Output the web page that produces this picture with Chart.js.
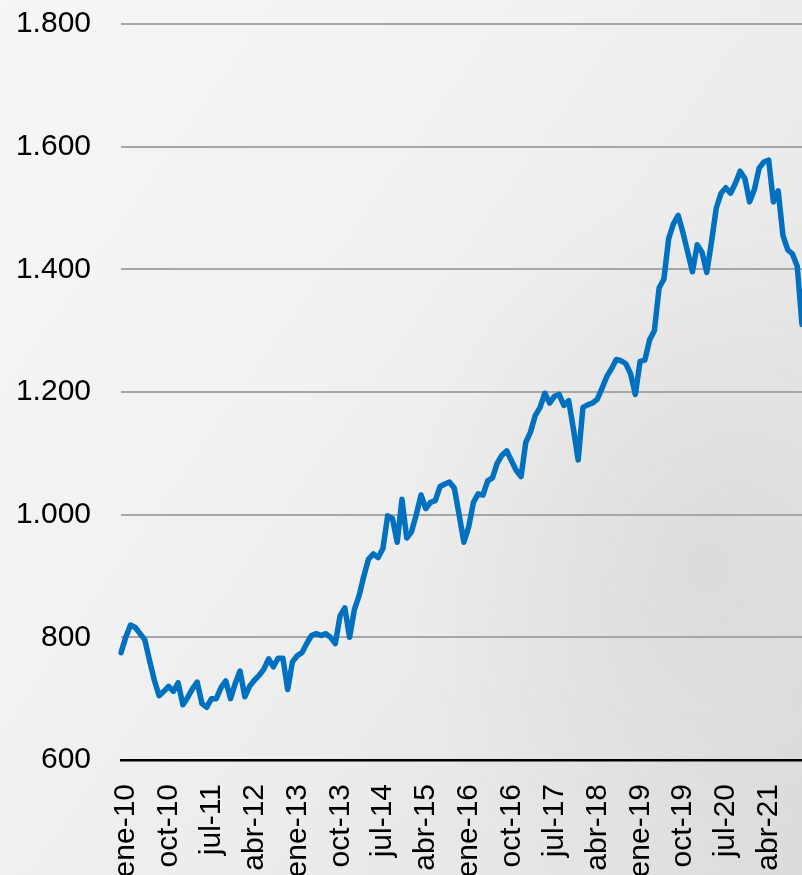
<!DOCTYPE html>
<html>
<head>
<meta charset="utf-8">
<script src="https://cdn.jsdelivr.net/npm/chart.js@4/dist/chart.umd.min.js"></script>
<style>
  html, body { margin: 0; padding: 0; overflow: hidden; }
  body {
    width: 802px; height: 875px;
    background:
      radial-gradient(ellipse 420px 520px at 700px 560px, rgba(200,200,200,0.35), rgba(200,200,200,0) 70%),
      linear-gradient(125deg, #f6f6f6 0%, #f2f2f2 35%, #ececec 60%, #e4e4e4 85%, #dcdcdc 100%);
  }
  #wrap { position: absolute; left: 0; top: 0; width: 802px; height: 900px; }
</style>
</head>
<body>
<div id="wrap"><canvas id="c" width="802" height="900"></canvas></div>
<script>
// Spanish month abbreviations and years for the category axis
const monthNames = ['ene','feb','mar','abr','may','jun','jul','ago','sep','oct','nov','dic'];
const years = ['10','11','12','13','14','15','16','17','18','19','20','21'];

// Monthly values, one array per year (ene..dic)
const v2010 = [775, 800, 820, 816, 806, 796, 762, 730, 705, 712, 720, 712];
const v2011 = [726, 690, 702, 716, 727, 692, 686, 700, 700, 718, 729, 700];
const v2012 = [725, 745, 703, 720, 730, 738, 748, 765, 752, 766, 766, 715];
const v2013 = [760, 770, 775, 790, 803, 806, 803, 806, 800, 790, 835, 848];
const v2014 = [800, 845, 868, 900, 928, 936, 930, 945, 998, 994, 955, 1025];
const v2015 = [962, 972, 1000, 1032, 1010, 1020, 1023, 1046, 1050, 1053, 1043, 1000];
const v2016 = [955, 980, 1020, 1034, 1032, 1055, 1060, 1084, 1097, 1104, 1088, 1072];
const v2017 = [1062, 1118, 1135, 1162, 1175, 1198, 1182, 1193, 1196, 1178, 1186, 1140];
const v2018 = [1089, 1175, 1179, 1182, 1188, 1206, 1225, 1238, 1253, 1251, 1246, 1230];
const v2019 = [1196, 1250, 1252, 1285, 1300, 1370, 1384, 1450, 1474, 1488, 1460, 1428];
const v2020 = [1396, 1440, 1428, 1395, 1445, 1500, 1524, 1533, 1524, 1540, 1560, 1548];
const v2021 = [1510, 1530, 1565, 1575, 1578, 1510, 1528, 1455, 1432, 1425, 1405, 1310];

// Y-axis tick values
const yTicks = [600, 800, 1000, 1200, 1400, 1600, 1800];
// Show a category label every N months
const labelStep = 9;

const categories = [];
years.forEach(y => monthNames.forEach(m => categories.push(m + '-' + y)));
const values = [].concat(v2010, v2011, v2012, v2013, v2014, v2015, v2016, v2017, v2018, v2019, v2020, v2021);

const fmt = v => String(v).replace(/\B(?=(\d{3})+(?!\d))/g, '.');

new Chart(document.getElementById('c'), {
  type: 'line',
  data: {
    labels: categories,
    datasets: [{
      data: values,
      borderColor: '#0070C0',
      borderWidth: 5.5,
      pointRadius: 0,
      tension: 0,
      fill: false,
      borderJoinStyle: 'round',
      borderCapStyle: 'round'
    }]
  },
  options: {
    responsive: false,
    animation: false,
    layout: { padding: { top: 24, right: 0, left: 0, bottom: 0 } },
    plugins: { legend: { display: false }, tooltip: { enabled: false } },
    scales: {
      x: {
        type: 'category',
        offset: false,
        grid: { display: false, drawTicks: false },
        border: { display: true, color: '#000000', width: 2.5 },
        ticks: {
          autoSkip: false,
          minRotation: 90,
          maxRotation: 90,
          padding: 24,
          labelOffset: 5,
          color: '#000000',
          font: { family: 'Liberation Sans, Arial, sans-serif', size: 30 },
          callback: function(val, idx) { return idx % labelStep === 0 ? categories[idx] : ''; }
        },
        afterFit: function(s) { s.height = 140; s.paddingLeft = 0; s.paddingRight = 0; }
      },
      y: {
        min: yTicks[0],
        max: yTicks[yTicks.length - 1],
        afterBuildTicks: function(s) { s.ticks = yTicks.map(v => ({ value: v })); },
        grid: {
          drawTicks: false,
          color: ctx => (ctx.tick && ctx.tick.value === yTicks[0]) ? 'rgba(0,0,0,0)' : '#a6a6a6',
          lineWidth: 2
        },
        border: { display: false },
        ticks: {
          padding: 30,
          color: '#000000',
          font: { family: 'Liberation Sans, Arial, sans-serif', size: 30 },
          callback: v => fmt(v)
        },
        afterFit: function(s) { s.width = 121; s.paddingTop = 0; s.paddingBottom = 0; }
      }
    }
  }
});
</script>
</body>
</html>
